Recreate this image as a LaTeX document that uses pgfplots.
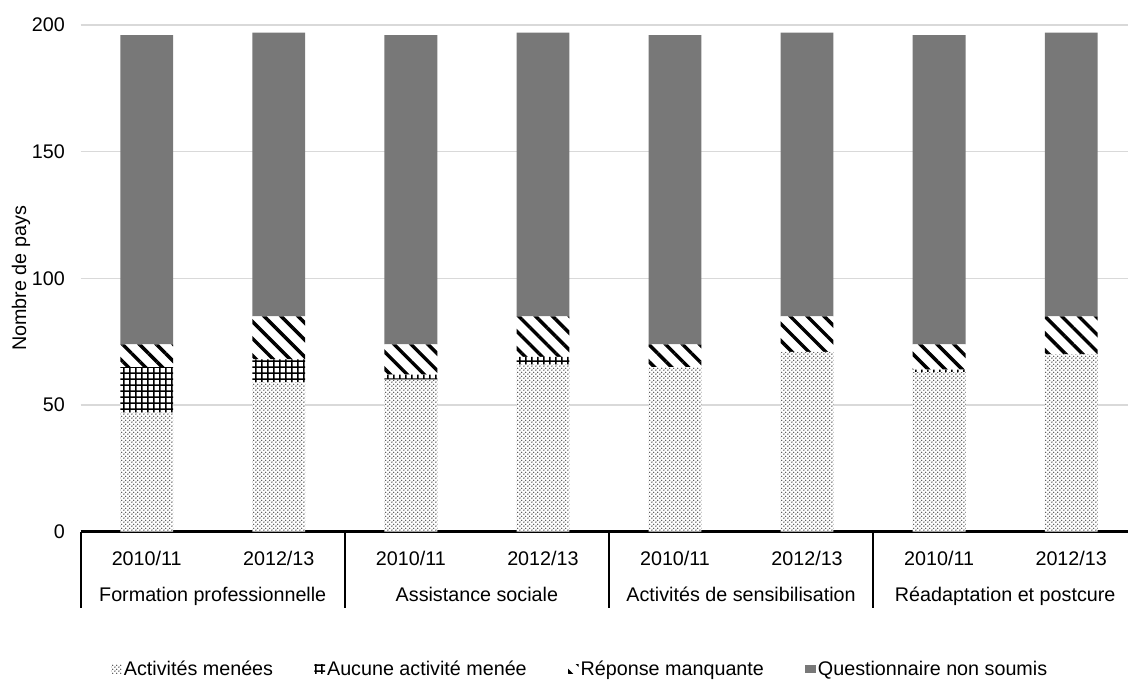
\documentclass[border=0pt]{standalone}
\usepackage{fontspec}
\setmainfont{Liberation Sans}
\usepackage{pgfplots}
\pgfplotsset{compat=1.18}
\usetikzlibrary{patterns,patterns.meta}

\newcommand\fsz{\fontsize{14.8}{17}\selectfont}

% light dotted fill: two dots per tile on a diagonal lattice
\pgfdeclarepattern{
  name=sparsedots, type=uncolored,
  bottom left=\pgfpoint{0pt}{0pt}, top right=\pgfpoint{3.2pt}{3.2pt},
  tile size=\pgfpoint{3.2pt}{3.2pt},
  code={
    \pgfpathcircle{\pgfpoint{0.8pt}{0.8pt}}{0.6pt}
    \pgfpathcircle{\pgfpoint{2.4pt}{2.4pt}}{0.6pt}
    \pgfusepath{fill}
  }
}
% square grid of thick lines
\pgfdeclarepattern{
  name=thickgrid, type=uncolored,
  bottom left=\pgfpoint{0pt}{0pt}, top right=\pgfpoint{4.8pt}{4.8pt},
  tile size=\pgfpoint{4.8pt}{4.8pt},
  code={
    \pgfsetlinewidth{1.25pt}
    \pgfpathmoveto{\pgfpoint{0pt}{2.4pt}}\pgfpathlineto{\pgfpoint{4.8pt}{2.4pt}}
    \pgfpathmoveto{\pgfpoint{2.4pt}{0pt}}\pgfpathlineto{\pgfpoint{2.4pt}{4.8pt}}
    \pgfusepath{stroke}
  }
}

\definecolor{notsubmitted}{gray}{0.47}

\pgfplotsset{
  swatch/.style={legend image code/.code={\path[##1] (0pt,-3.3pt) rectangle (8pt,3.3pt);}},
}

\begin{document}
\begin{tikzpicture}
\useasboundingbox (0,0) rectangle (846pt,510pt);
\begin{axis}[
  at={(60.5pt,111.2pt)}, anchor=south west,
  width=785.5pt, height=380pt, scale only axis,
  clip=false,
  ybar stacked, bar width=0.4,
  xmin=-0.5, xmax=7.43, ymin=0, ymax=200,
  xtick={0,...,7},
  xticklabels={2010/11,2012/13,2010/11,2012/13,2010/11,2012/13,2010/11,2012/13},
  ytick={0,50,100,150,200},
  separate axis lines,
  axis x line*=bottom, axis y line*=left,
  x axis line style={line width=2.3pt,-},
  y axis line style={draw=none},
  major tick length=0pt,
  ymajorgrids, grid style={draw=black!15, line width=1pt},
  /pgf/number format/assume math mode=true,
  tick label style={font=\fsz, text=black},
  xticklabel style={anchor=north, yshift=-11.3pt},
  yticklabel style={anchor=east, xshift=-8.3pt},
  ylabel={Nombre de pays},
  ylabel style={font=\fsz, at={(axis description cs:-0.057,0.5)}, anchor=center},
  legend columns=4,
  legend style={font=\fsz, draw=none, at={(axis description cs:0.477,-0.271)}, anchor=center,
    nodes={inner xsep=1.5pt},
    /tikz/every even column/.append style={column sep=29.5pt}},
  legend cell align=left,
]
\addplot[draw=none, fill=white, postaction={pattern=sparsedots, pattern color=black!85}, swatch]
  coordinates {(0,47) (1,59) (2,60) (3,66) (4,65) (5,71) (6,63) (7,70)};
\addplot[draw=none, fill=white, postaction={pattern=thickgrid, pattern color=black}, swatch]
  coordinates {(0,18) (1,9) (2,2) (3,3) (4,0) (5,0) (6,1) (7,0)};
\addplot[draw=none, fill=white, postaction={pattern={Lines[angle=-45,distance=9pt,line width=2.6pt]}, pattern color=black}, swatch]
  coordinates {(0,9) (1,17) (2,12) (3,16) (4,9) (5,14) (6,10) (7,15)};
\addplot[draw=none, fill=notsubmitted, swatch]
  coordinates {(0,122) (1,112) (2,122) (3,112) (4,122) (5,112) (6,122) (7,112)};
\legend{Activités menées, Aucune activité menée, Réponse manquante, Questionnaire non soumis}

% group separators below the category axis
\draw[line width=1.3pt] (axis cs:-0.5,0) -- ++(0pt,-57.2pt);
\draw[line width=1.3pt] (axis cs:1.5,0) -- ++(0pt,-57.2pt);
\draw[line width=1.3pt] (axis cs:3.5,0) -- ++(0pt,-57.2pt);
\draw[line width=1.3pt] (axis cs:5.5,0) -- ++(0pt,-57.2pt);
% group names
\node[font=\fsz, anchor=base, yshift=-52.5pt] at (axis cs:0.5,0) {Formation professionnelle};
\node[font=\fsz, anchor=base, yshift=-52.5pt] at (axis cs:2.5,0) {Assistance sociale};
\node[font=\fsz, anchor=base, yshift=-52.5pt] at (axis cs:4.5,0) {Activités de sensibilisation};
\node[font=\fsz, anchor=base, yshift=-52.5pt] at (axis cs:6.5,0) {Réadaptation et postcure};
\end{axis}
\end{tikzpicture}
\end{document}
